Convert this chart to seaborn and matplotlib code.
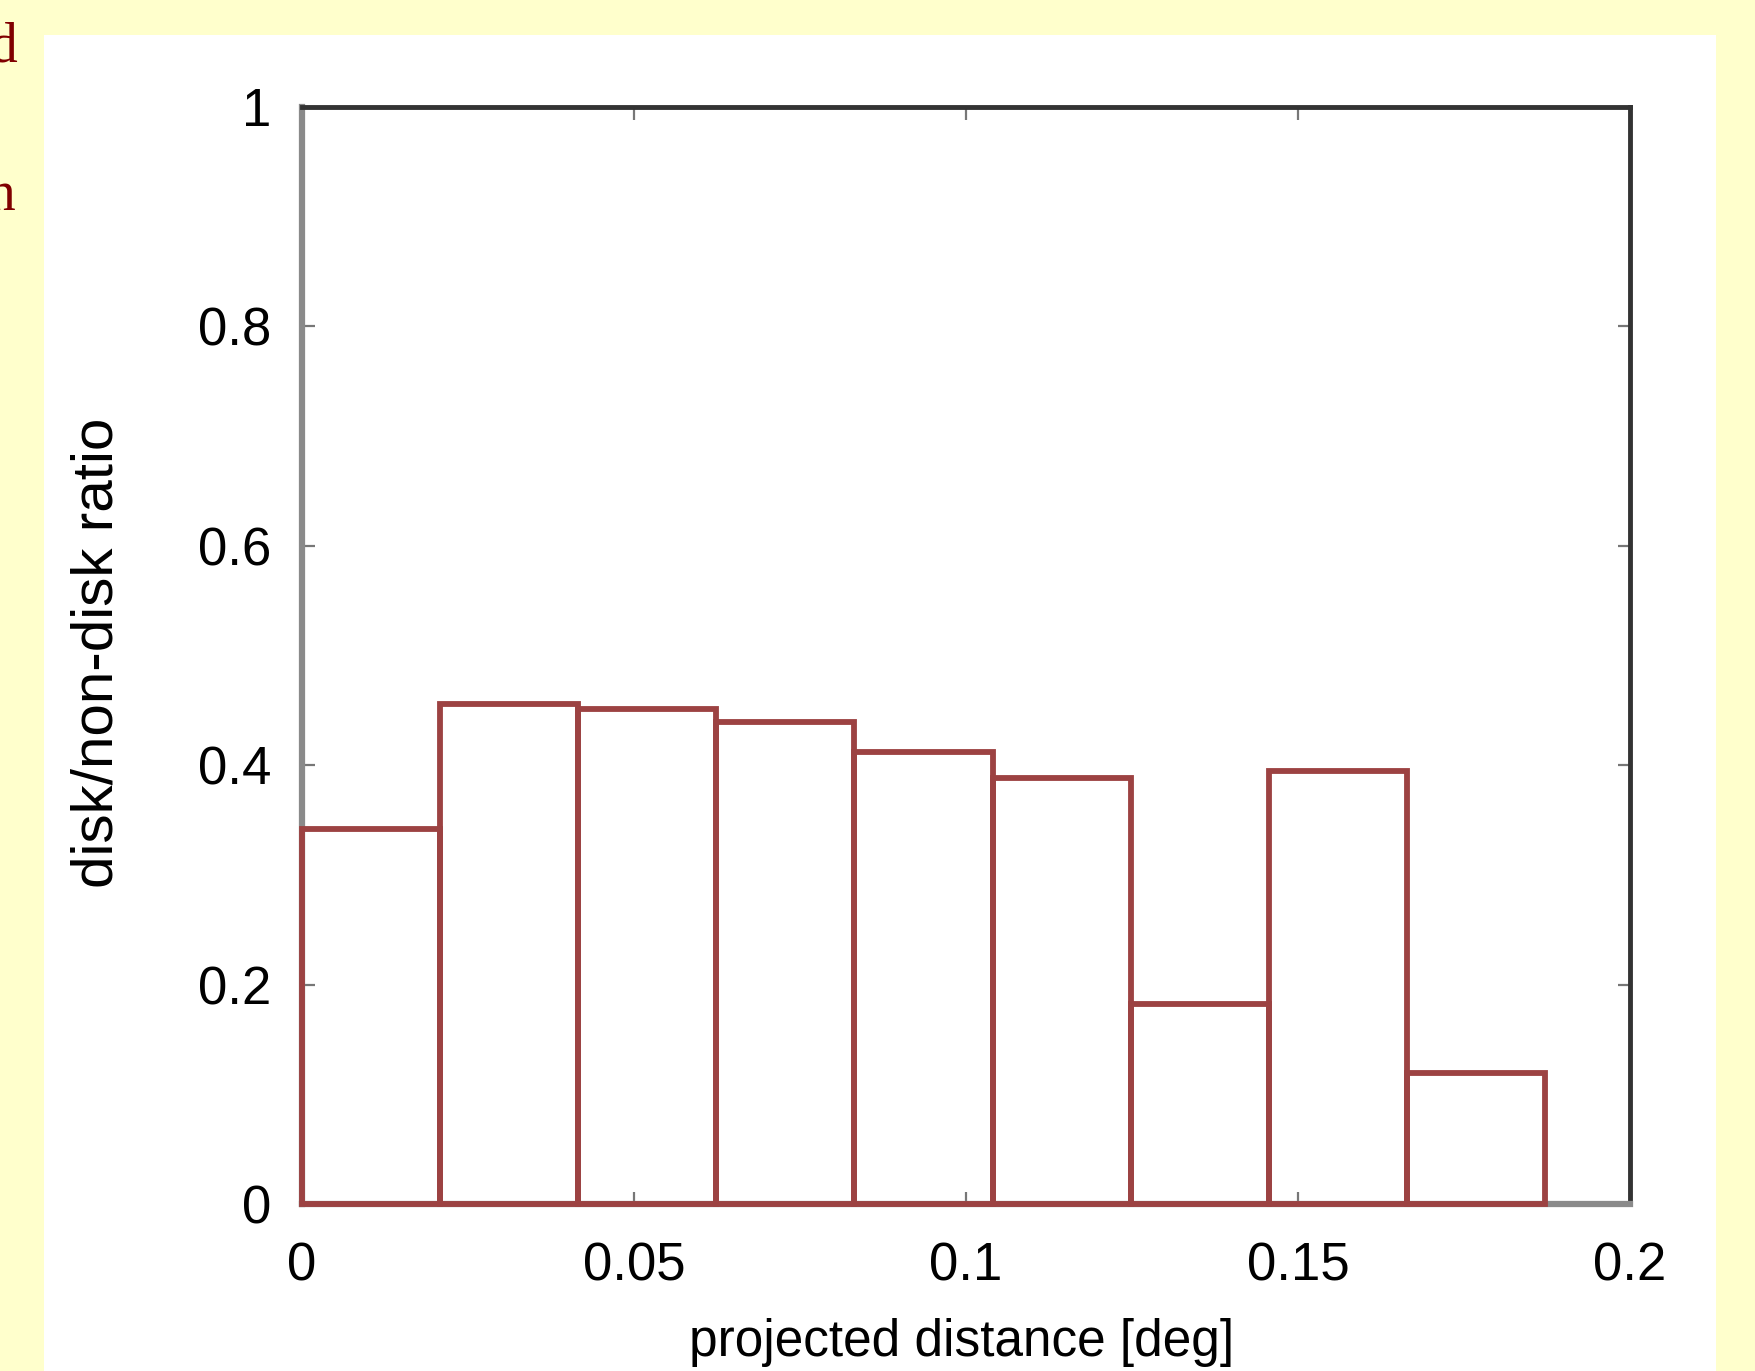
import matplotlib
matplotlib.use("Agg")
import matplotlib.pyplot as plt
from matplotlib.patches import Rectangle
import seaborn as sns

# bin edges and disk/non-disk ratio per bin
bin_edges = [0, 0.0208, 0.0416, 0.0624, 0.0832, 0.104, 0.1248, 0.1456, 0.1664, 0.1872]
bin_centers = [0.0104, 0.0312, 0.052, 0.0728, 0.0936, 0.1144, 0.1352, 0.156, 0.1768]
ratios = [0.342, 0.456, 0.451, 0.439, 0.412, 0.388, 0.182, 0.395, 0.119]

x_ticks = [0, 0.05, 0.1, 0.15, 0.2]
x_ticklabels = ["0", "0.05", "0.1", "0.15", "0.2"]
y_ticks = [0, 0.2, 0.4, 0.6, 0.8, 1]
y_ticklabels = ["0", "0.2", "0.4", "0.6", "0.8", "1"]

sans = ["Liberation Sans", "DejaVu Sans"]
serif = ["Liberation Serif", "DejaVu Serif"]

W, H = 1756, 1371
fig = plt.figure(figsize=(W / 100, H / 100), dpi=100, facecolor="#FFFFCC")

# white panel on the yellow page
fig.patches.append(Rectangle((44 / W, 0), (1716 - 44) / W, 1 - 35 / H,
                             transform=fig.transFigure, facecolor="white",
                             edgecolor="none", zorder=-10))

ax = fig.add_axes([302 / W, 1 - 1204 / H, (1630 - 302) / W, (1204 - 107) / H])
ax.set_facecolor("white")

sns.histplot(x=bin_centers, weights=ratios, bins=bin_edges, element="bars",
             fill=False, color="#9c4242", linewidth=4.2, ax=ax,
             zorder=3, clip_on=False)

ax.set_xlim(0, 0.2)
ax.set_ylim(0, 1)
ax.set_xticks(x_ticks)
ax.set_xticklabels(x_ticklabels, family=sans, fontsize=38)
ax.set_yticks(y_ticks)
ax.set_yticklabels(y_ticklabels, family=sans, fontsize=38)
ax.set_xlabel("")
ax.set_ylabel("")
ax.tick_params(direction="in", top=True, right=True, length=9, width=1.6,
               color="#777777", labelcolor="black")
ax.tick_params(axis="x", pad=27)
ax.tick_params(axis="y", pad=22)

for side in ["top", "right"]:
    ax.spines[side].set_color("#333333")
    ax.spines[side].set_linewidth(3.5)
for side in ["left", "bottom"]:
    ax.spines[side].set_color("#8a8a8a")
    ax.spines[side].set_linewidth(4.5)

fig.text(98 / W, 1 - 653 / H, "disk/non-disk ratio", rotation=90,
         ha="center", va="center", family=sans, fontsize=42)
fig.text(962 / W, 1 - 1318 / H, "projected distance [deg]",
         ha="center", va="top", family=sans, fontsize=37)

# cut-off text at the left page edge
fig.text(18 / W, 1 - 62 / H, "d", ha="right", va="baseline",
         family=serif, fontsize=40, color="#800000")
fig.text(16 / W, 1 - 210 / H, "n", ha="right", va="baseline",
         family=serif, fontsize=40, color="#800000")

fig.savefig("out.png", dpi=100, facecolor=fig.get_facecolor())
